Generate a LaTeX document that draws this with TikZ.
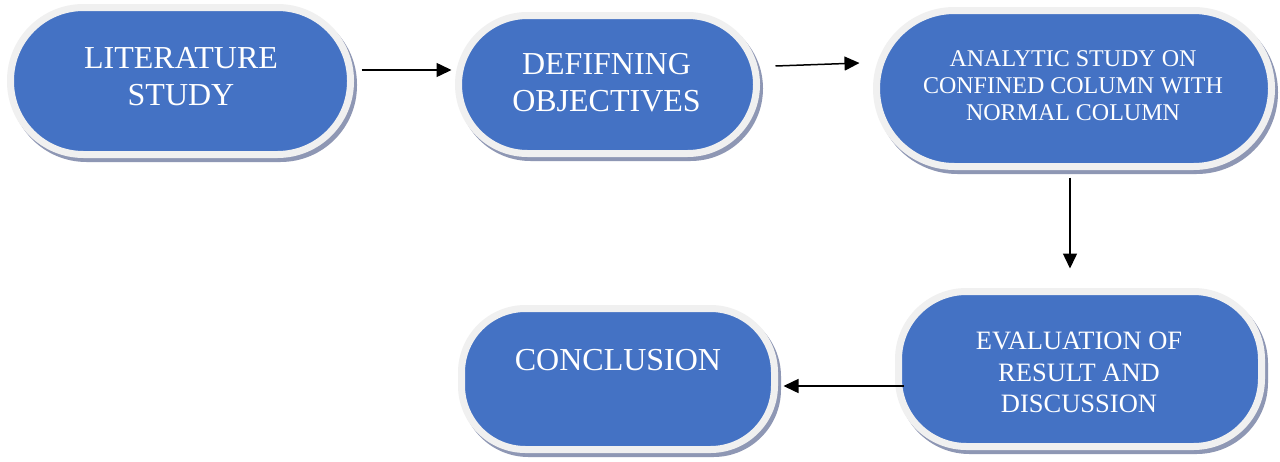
\documentclass[tikz,border=0pt]{standalone}
\usepackage{fontspec}
\setmainfont{Liberation Serif}
\usetikzlibrary{arrows.meta}
\definecolor{boxblue}{HTML}{4472C4}
\definecolor{rimgray}{HTML}{F0F0F0}
\definecolor{shadowcol}{HTML}{8E97B4}
\tikzset{
  pill/.style={rectangle, draw=rimgray, fill=boxblue, line width=7pt, inner sep=0pt,
    preaction={draw=shadowcol, fill=shadowcol, line width=7pt,
      transform canvas={shift={(3pt,-4pt)}}}},
  label text/.style={text=white, align=center, inner sep=0pt, anchor=north},
  bigtext/.style={label text, font=\fontsize{32}{37}\selectfont},
  smalltext/.style={label text, font=\fontsize{24}{27}\selectfont},
  midtext/.style={label text, font=\fontsize{26.5}{31.5}\selectfont},
  flow/.style={line width=1.5pt, -{Triangle[length=15pt,width=14pt]}}
}
\begin{document}
\begin{tikzpicture}[x=1pt,y=-1pt]
\useasboundingbox[fill=white] (0,0) rectangle (1280,461);
% shapes
\node[pill, minimum width=340pt, minimum height=147pt, rounded corners=73pt] (s1) at (180.5,81) {};
\node[pill, minimum width=298pt, minimum height=138pt, rounded corners=69pt] (s2) at (607.5,84.5) {};
\node[pill, minimum width=395pt, minimum height=156pt, rounded corners=78pt] (s3) at (1074,88.5) {};
\node[pill, minimum width=313pt, minimum height=141pt, rounded corners=64pt] (s4) at (618,379) {};
\node[pill, minimum width=363pt, minimum height=155pt, rounded corners=68pt] (s5) at (1080,369) {};
% texts
\node[bigtext] (t1) at (181,47) {LITERATURE\\STUDY};
\node[bigtext] (t2) at (606.5,53) {DEFIFNING\\OBJECTIVES};
\node[smalltext] (t3) at (1073,50) {ANALYTIC STUDY ON\\CONFINED COLUMN WITH\\NORMAL COLUMN};
\node[bigtext] (t4) at (618,349) {CONCLUSION};
\node[midtext] (t5) at (1079,332) {EVALUATION OF\\RESULT AND\\DISCUSSION};
% connectors
\draw[flow] ([shift={(7.5pt,11pt)}]s1.east) -- ([shift={(-3.5pt,14.5pt)}]s2.west);
\draw[flow] ([shift={(15.5pt,18.5pt)}]s2.east) -- ([shift={(-13.5pt,25.5pt)}]s3.west);
\draw[flow] ([shift={(-4pt,-7.5pt)}]s3.south) -- ([shift={(-10pt,19.5pt)}]s5.north);
\draw[flow] ([shift={(8.5pt,-17pt)}]s5.west) -- ([shift={(5.5pt,-7pt)}]s4.east);
\end{tikzpicture}
\end{document}
